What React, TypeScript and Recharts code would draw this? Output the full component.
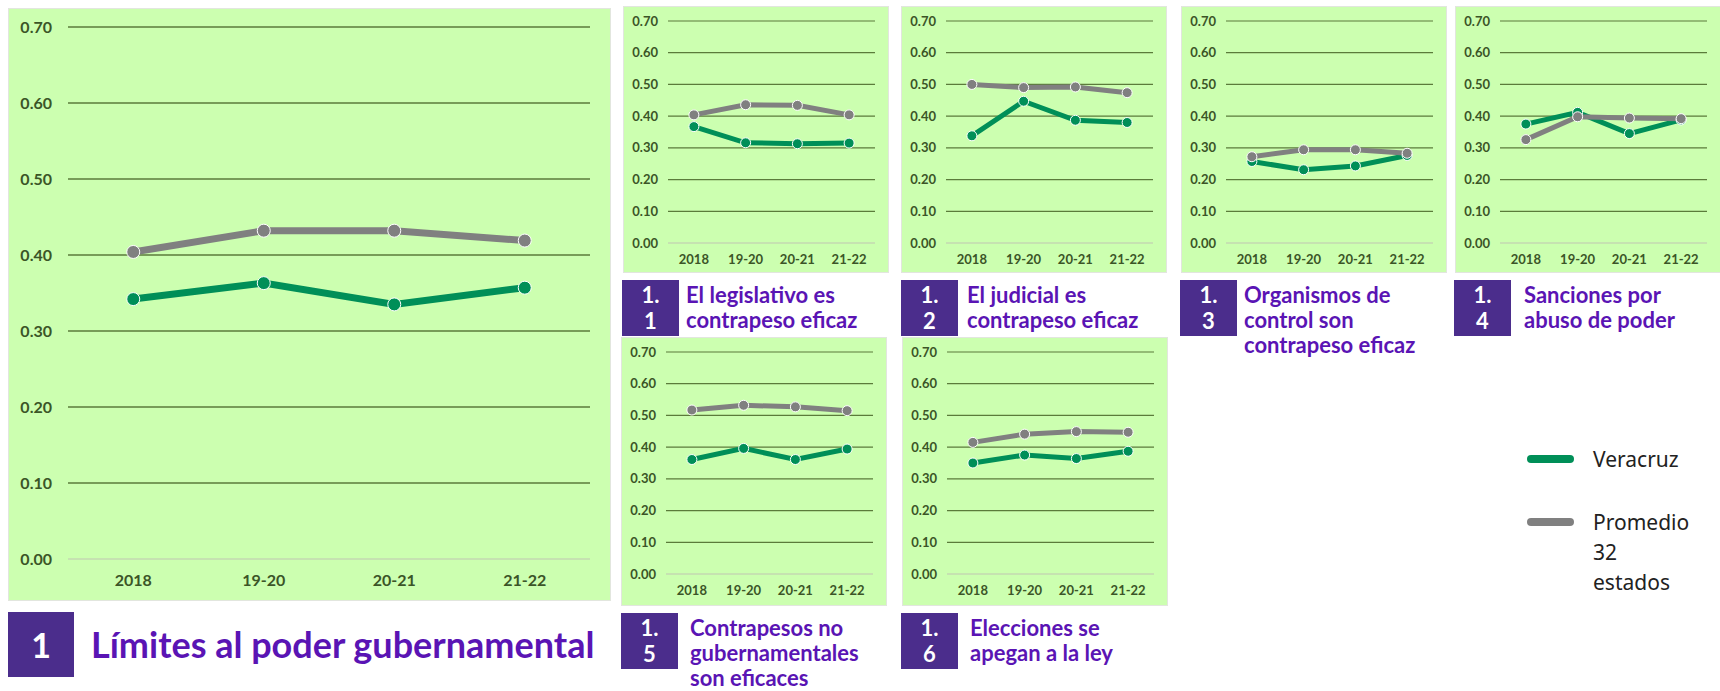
import React from "react";
import {
  LineChart,
  Line,
  XAxis,
  YAxis,
  CartesianGrid,
} from "recharts";

// periodos y escala compartidos
const categories = ["2018", "19-20", "20-21", "21-22"];
const yTicks = [0, 0.1, 0.2, 0.3, 0.4, 0.5, 0.6, 0.7];

// 1 Límites al poder gubernamental
const veracruzMain = [0.342, 0.363, 0.335, 0.357];
const promedioMain = [0.404, 0.432, 0.432, 0.419];

// subfactores 1.1 – 1.6
const veracruz11 = [0.367, 0.316, 0.313, 0.315];
const promedio11 = [0.404, 0.436, 0.434, 0.404];
const veracruz12 = [0.338, 0.447, 0.387, 0.38];
const promedio12 = [0.5, 0.49, 0.492, 0.474];
const veracruz13 = [0.257, 0.231, 0.243, 0.276];
const promedio13 = [0.272, 0.294, 0.294, 0.283];
const veracruz14 = [0.375, 0.412, 0.345, 0.388];
const promedio14 = [0.326, 0.398, 0.394, 0.392];
const veracruz15 = [0.361, 0.396, 0.361, 0.394];
const promedio15 = [0.517, 0.532, 0.527, 0.515];
const veracruz16 = [0.35, 0.375, 0.364, 0.387];
const promedio16 = [0.415, 0.441, 0.449, 0.447];

const subCodes = ["1.\n1", "1.\n2", "1.\n3", "1.\n4", "1.\n5", "1.\n6"];
const subTitles = [
  ["El legislativo es", "contrapeso eficaz"],
  ["El judicial es", "contrapeso eficaz"],
  ["Organismos de", "control son", "contrapeso eficaz"],
  ["Sanciones por", "abuso de poder"],
  ["Contrapesos no", "gubernamentales", "son eficaces"],
  ["Elecciones se", "apegan a la ley"],
];
const legendLabels = ["Veracruz", "Promedio\n32\nestados"];

const GREEN = "#008f58";
const GRAY = "#808080";
const BG = "#ccffb0";
const PURPLE_BOX = "#4b2d8c";
const PURPLE_TEXT = "#5a14b4";
const TICK = "#3b5527";

const rows = (v: number[], p: number[]) =>
  categories.map((c, i) => ({ name: c, veracruz: v[i], promedio: p[i] }));

type PanelProps = {
  data: { name: string; veracruz: number; promedio: number }[];
  left: number;
  top: number;
  width: number;
  height: number;
  plotTop: number;
  plotLeft: number;
  plotWidth: number;
  plotHeight: number;
  fontSize: number;
  lineWidth: number;
  dotR: number;
  yGap: number;
  xGap: number;
  gridWidth: number;
};

function Panel(p: PanelProps) {
  const band = p.plotWidth / categories.length;
  const xHeight = p.height - p.plotTop - p.plotHeight;
  const tick = { fontSize: p.fontSize, fill: TICK, fontWeight: 700, fontFamily: "Lato" };
  return (
    <div
      style={{
        position: "absolute",
        left: p.left,
        top: p.top,
        width: p.width,
        height: p.height,
        background: BG,
        boxShadow: "0 0 0 1px #e2e6de",
      }}
    >
      <LineChart
        width={p.width}
        height={p.height}
        data={p.data}
        margin={{ top: p.plotTop, left: 0, bottom: 0, right: p.width - p.plotLeft - p.plotWidth }}
      >
        <CartesianGrid
          vertical={false}
          stroke="#5b7b3b"
          strokeWidth={p.gridWidth}
          horizontalValues={yTicks.filter((t) => t > 0)}
        />
        <XAxis
          dataKey="name"
          height={xHeight}
          padding={{ left: band / 2, right: band / 2 }}
          tickLine={false}
          tickSize={0}
          tickMargin={p.xGap}
          axisLine={{ stroke: "#c4d9b2", strokeWidth: 1.5 }}
          tick={tick}
          interval={0}
        />
        <YAxis
          width={p.plotLeft}
          domain={[0, 0.7]}
          ticks={yTicks}
          interval={0}
          axisLine={false}
          tickLine={false}
          tickSize={0}
          tickMargin={p.yGap}
          tick={tick}
          tickFormatter={(v: number) => v.toFixed(2)}
        />
        <Line
          dataKey="veracruz"
          stroke={GREEN}
          strokeWidth={p.lineWidth}
          dot={{ r: p.dotR, fill: GREEN, stroke: "#fff", strokeWidth: 1 }}
          isAnimationActive={false}
        />
        <Line
          dataKey="promedio"
          stroke={GRAY}
          strokeWidth={p.lineWidth}
          dot={{ r: p.dotR, fill: GRAY, stroke: "#fff", strokeWidth: 1 }}
          isAnimationActive={false}
        />
      </LineChart>
    </div>
  );
}

function SubLabel({ left, top, textLeft, code, lines }: { left: number; top: number; textLeft: number; code: string; lines: string[] }) {
  return (
    <>
      <div
        style={{
          position: "absolute",
          left,
          top,
          width: 57,
          height: 56,
          background: PURPLE_BOX,
          color: "#fff",
          fontFamily: "Lato",
          fontWeight: 700,
          fontSize: 22,
          lineHeight: "26px",
          textAlign: "center",
          whiteSpace: "pre",
          paddingTop: 2,
          boxSizing: "border-box",
        }}
      >
        {code}
      </div>
      <div
        style={{
          position: "absolute",
          left: textLeft,
          top: top + 2,
          color: PURPLE_TEXT,
          fontFamily: "Lato",
          fontWeight: 700,
          fontSize: 22,
          lineHeight: "25px",
          whiteSpace: "nowrap",
        }}
      >
        {lines.map((l) => (
          <div key={l}>{l}</div>
        ))}
      </div>
    </>
  );
}

const small = {
  width: 264,
  plotTop: 14,
  plotLeft: 44,
  plotWidth: 207,
  plotHeight: 222,
  fontSize: 13,
  lineWidth: 5,
  dotR: 5,
  yGap: 10,
  xGap: 12,
  gridWidth: 1.2,
};

export default function App() {
  const subData = [
    rows(veracruz11, promedio11),
    rows(veracruz12, promedio12),
    rows(veracruz13, promedio13),
    rows(veracruz14, promedio14),
    rows(veracruz15, promedio15),
    rows(veracruz16, promedio16),
  ];
  const subPos = [
    { left: 624, top: 7, height: 265, boxLeft: 622, textLeft: 686 },
    { left: 902, top: 7, height: 265, boxLeft: 901, textLeft: 967 },
    { left: 1182, top: 7, height: 265, boxLeft: 1180, textLeft: 1244 },
    { left: 1456, top: 7, height: 265, boxLeft: 1454, textLeft: 1524 },
    { left: 622, top: 338, height: 267, boxLeft: 621, textLeft: 690 },
    { left: 903, top: 338, height: 267, boxLeft: 901, textLeft: 970 },
  ];

  return (
    <div
      style={{
        position: "absolute",
        left: 0,
        top: 0,
        width: 1720,
        height: 691,
        background: "#fff",
        overflow: "hidden",
      }}
    >
      <Panel
        data={rows(veracruzMain, promedioMain)}
        left={9}
        top={9}
        width={601}
        height={591}
        plotTop={18}
        plotLeft={59}
        plotWidth={522}
        plotHeight={532}
        fontSize={16}
        lineWidth={7}
        dotR={6.5}
        yGap={16}
        xGap={16}
        gridWidth={1.6}
      />
      <div
        style={{
          position: "absolute",
          left: 8,
          top: 612,
          width: 66,
          height: 65,
          background: PURPLE_BOX,
          color: "#fff",
          fontFamily: "Lato",
          fontWeight: 700,
          fontSize: 34,
          lineHeight: "65px",
          textAlign: "center",
        }}
      >
        1
      </div>
      <div
        style={{
          position: "absolute",
          left: 91,
          top: 612,
          height: 65,
          lineHeight: "65px",
          color: PURPLE_TEXT,
          fontFamily: "Lato",
          fontWeight: 700,
          fontSize: 36,
          whiteSpace: "nowrap",
        }}
      >
        Límites al poder gubernamental
      </div>

      {subData.map((d, i) => (
        <React.Fragment key={i}>
          <Panel data={d} left={subPos[i].left} top={subPos[i].top} height={subPos[i].height} {...small} />
          <SubLabel
            left={subPos[i].boxLeft}
            top={subPos[i].top + subPos[i].height + 8}
            textLeft={subPos[i].textLeft}
            code={subCodes[i]}
            lines={subTitles[i]}
          />
        </React.Fragment>
      ))}

      {/* leyenda */}
      {[GREEN, GRAY].map((c, i) => (
        <React.Fragment key={c}>
          <div
            style={{
              position: "absolute",
              left: 1527,
              top: (i === 0 ? 459 : 522) - 4,
              width: 47,
              height: 8,
              borderRadius: 4,
              background: c,
            }}
          />
          <div
            style={{
              position: "absolute",
              left: 1593,
              top: (i === 0 ? 459 : 522) - 15,
              fontFamily: "Noto Sans",
              fontSize: 21,
              lineHeight: "30px",
              color: "#222",
              whiteSpace: "pre",
            }}
          >
            {legendLabels[i]}
          </div>
        </React.Fragment>
      ))}
    </div>
  );
}
